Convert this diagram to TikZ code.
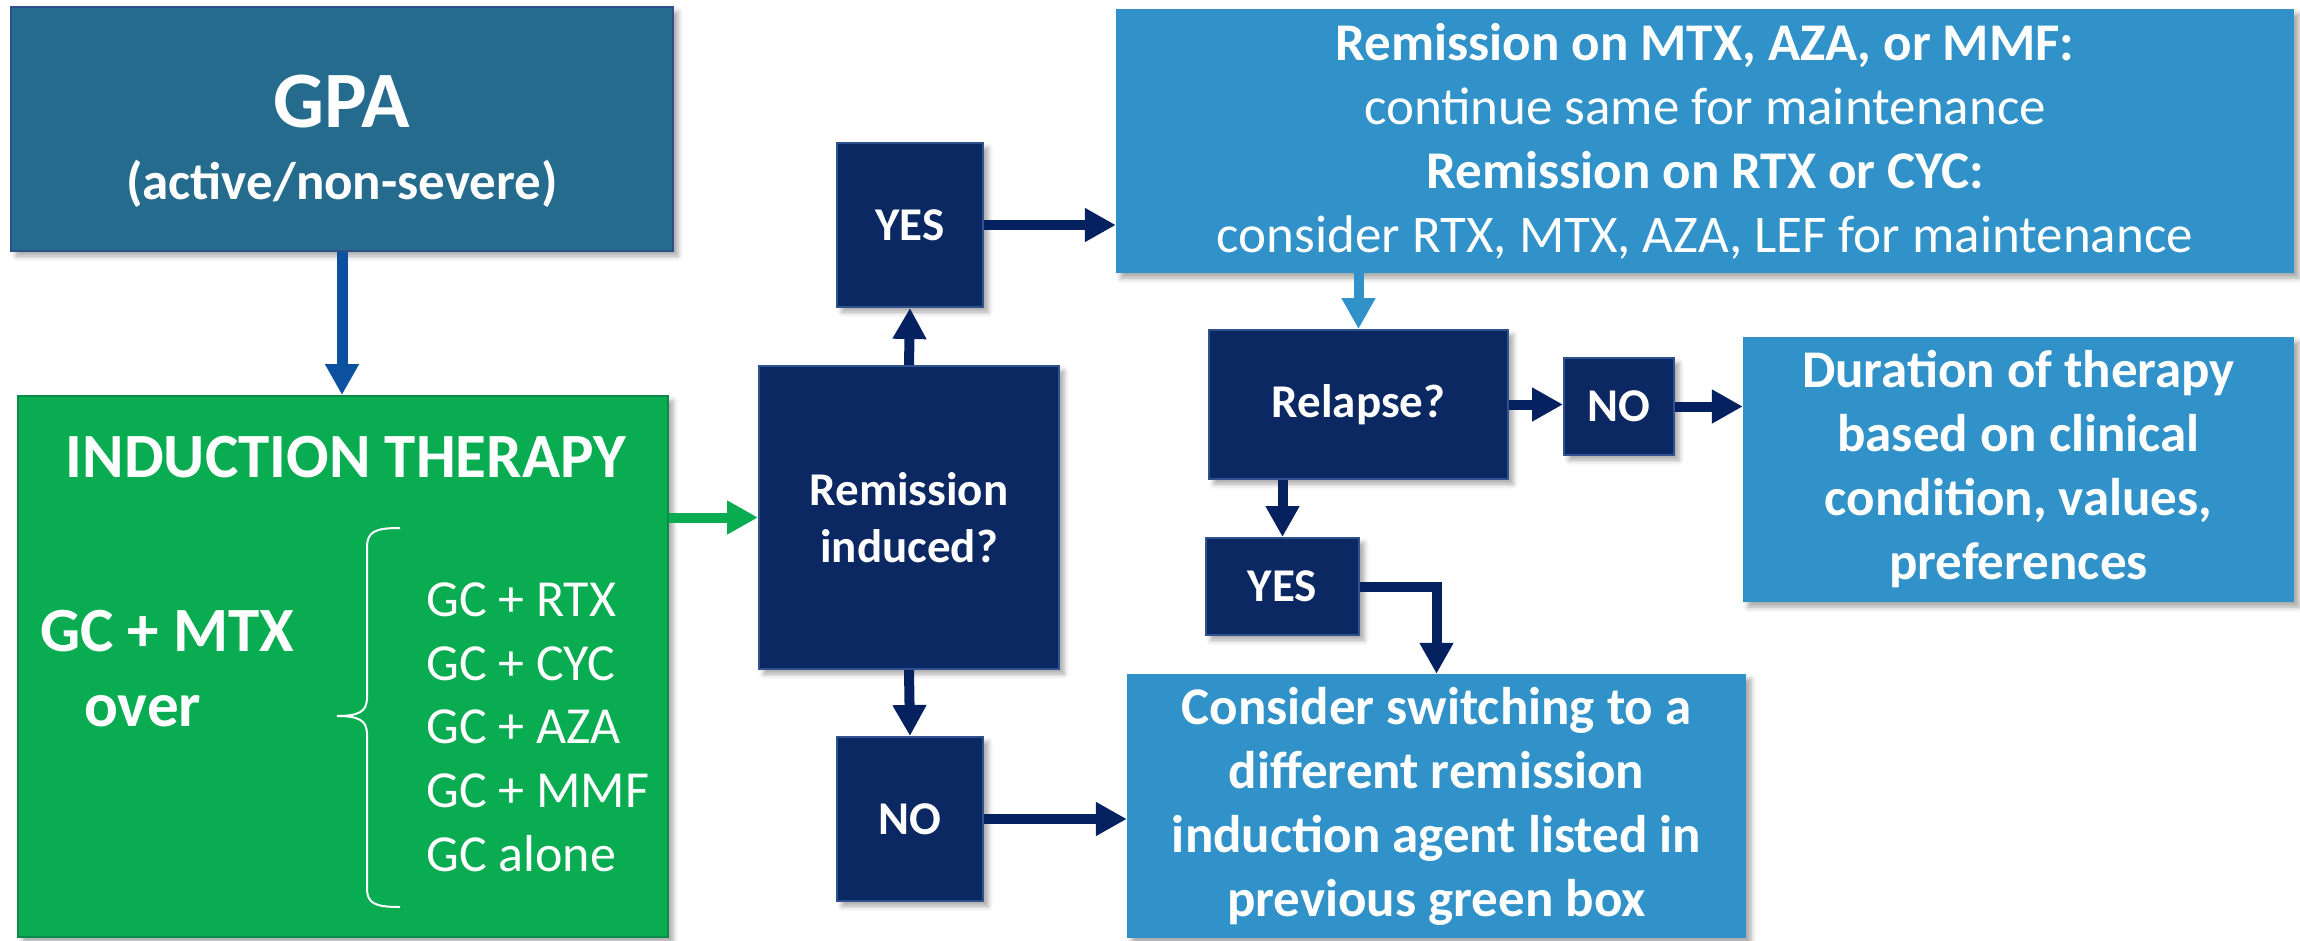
\documentclass[tikz,border=0pt]{standalone}
\usepackage{fontspec}
\setmainfont{Carlito}
\usetikzlibrary{arrows.meta,shadows.blur}
\definecolor{gpaC}{RGB}{37,107,142}
\definecolor{gpaB}{RGB}{46,78,140}
\definecolor{greenC}{RGB}{10,172,82}
\definecolor{greenB}{RGB}{10,140,70}
\definecolor{navyC}{RGB}{11,40,98}
\definecolor{navyB}{RGB}{47,82,143}
\definecolor{lightC}{RGB}{48,146,200}
\definecolor{arrC}{RGB}{6,33,96}
\definecolor{gpaArr}{RGB}{12,80,160}
\newcommand\fsz[2]{\fontsize{#1}{#2}\selectfont}
\begin{document}
\begin{tikzpicture}[x=1pt,y=-1pt,
  box/.style={rectangle, inner sep=0pt, align=center, text=white,
    blur shadow={shadow xshift=5pt, shadow yshift=-5pt, shadow blur radius=5pt, shadow opacity=35}},
  gpabox/.style={box, fill=gpaC, draw=gpaB, line width=2pt},
  indbox/.style={box, fill=greenC, draw=greenB, line width=2pt},
  navybox/.style={box, fill=navyC, draw=navyB, line width=2pt, font=\fsz{47}{57}\bfseries},
  lightbox/.style={box, fill=lightC, font=\fsz{53}{64}\bfseries},
  txt/.style={inner sep=0pt, text=white},
  arr/.style={line width=10pt, draw=arrC, -{Triangle[length=31pt,width=32pt]}}
]
\useasboundingbox (0,0) rectangle (2300,940);

% boxes
\node[gpabox, minimum width=662pt, minimum height=244pt] (gpa) at (342,129) {};
\node[txt, font=\fsz{80}{96}\bfseries, anchor=base] (gpaT) at (342,127) {GPA};
\node[txt, font=\fsz{53}{64}\bfseries, anchor=base] (gpaS) at (342,199) {(active/non-severe)};

\node[indbox, minimum width=650pt, minimum height=541pt] (ind) at (343,666.5) {};
\node[txt, font=\fsz{63}{76}\bfseries, anchor=base] (indT) at (346,477) {INDUCTION THERAPY};
\node[txt, font=\fsz{63}{76}\bfseries, anchor=base west] (gcmtx) at (40,651) {GC + MTX};
\node[txt, font=\fsz{63}{76}\bfseries, anchor=base west] (over) at (84,726) {over};
\node[txt, font=\fsz{52}{64}, anchor=base west] (l1) at (426,616) {GC + RTX};
\node[txt, font=\fsz{52}{64}, anchor=base west] (l2) at (426,680) {GC + CYC};
\node[txt, font=\fsz{52}{64}, anchor=base west] (l3) at (426,743) {GC + AZA};
\node[txt, font=\fsz{52}{64}, anchor=base west] (l4) at (426,807) {GC + MMF};
\node[txt, font=\fsz{52}{64}, anchor=base west] (l5) at (426,871) {GC alone};
\draw[white, line width=2pt] (400,528) .. controls (374,528) and (367,532) .. (367,548)
  -- (367,698) .. controls (367,712) and (358,716) .. (337,716)
  .. controls (358,716) and (367,720) .. (367,734)
  -- (367,888) .. controls (367,903) and (374,907) .. (400,907);

\node[navybox, minimum width=300pt, minimum height=303pt] (rem) at (909,517.5) {Remission\\induced?};
\node[navybox, minimum width=146pt, minimum height=164pt] (yes1) at (910,225) {YES};
\node[navybox, minimum width=146pt, minimum height=164pt] (no1) at (910,819) {NO};

\node[lightbox, minimum width=1178pt, minimum height=264pt] (top) at (1705,141)
  {Remission on MTX, AZA, or MMF:\\ {\mdseries continue same for maintenance}\\
   Remission on RTX or CYC:\\ {\mdseries consider RTX, MTX, AZA, LEF for maintenance}};

\node[navybox, minimum width=299pt, minimum height=149pt] (relapse) at (1358.5,404.5) {Relapse?};
\node[navybox, minimum width=110pt, minimum height=97pt] (no2) at (1619,406.5) {NO};
\node[navybox, minimum width=153pt, minimum height=97pt] (yes2) at (1282.5,586.5) {YES};

\node[lightbox, minimum width=551pt, minimum height=265pt] (dur) at (2018.5,469.5)
  {Duration of therapy\\ based on clinical\\ condition, values,\\ preferences};
\node[lightbox, minimum width=619pt, minimum height=264pt] (cons) at (1436.5,806)
  {Consider switching to a\\ different remission\\ induction agent listed in\\ previous green box};

% connectors
\draw[arr, draw=gpaArr, line width=11pt] (gpa.south) -- (gpa.south |- ind.north);
\draw[arr, draw=greenC] (rem.west -| ind.east) -- (rem.west);
\draw[arr] (rem.north) -- (yes1.south);
\draw[arr] (yes1.east) -- (yes1.east -| top.west);
\draw[arr] (rem.south) -- (no1.north);
\draw[arr] (no1.east) -- (no1.east -| cons.west);
\draw[arr, draw=lightC] (relapse.north |- top.south) -- (relapse.north);
\draw[arr] (relapse.east) -- (relapse.east -| no2.west);
\draw[arr] (no2.east) -- (no2.east -| dur.west);
\draw[arr] (yes2.north |- relapse.south) -- (yes2.north);
\draw[arr] (yes2.east) -| (cons.north);
\end{tikzpicture}
\end{document}
